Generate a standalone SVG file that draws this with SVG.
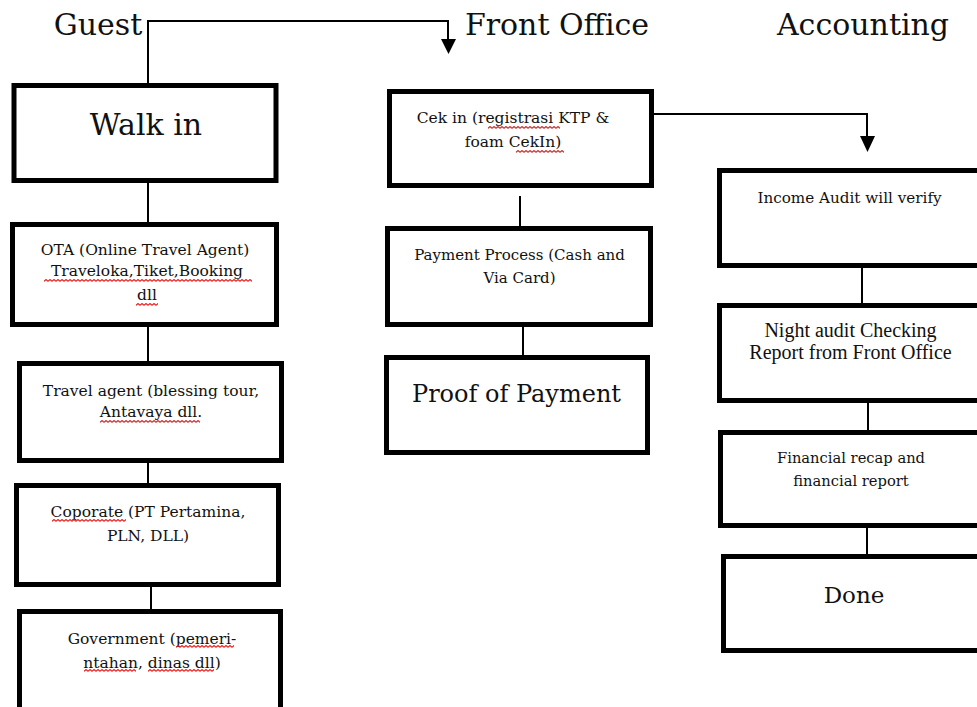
<svg xmlns="http://www.w3.org/2000/svg" width="977" height="707" viewBox="0 0 977 707">
<style>
.box{fill:#fff;stroke:#000;stroke-width:5}
.conn{stroke:#000;stroke-width:2;fill:none}
.head{fill:#000;stroke:none}
.t{font-family:"DejaVu Serif","Liberation Serif",serif;fill:#111;text-anchor:middle}
.tt{font-family:"Liberation Serif","Times New Roman",serif;fill:#111;text-anchor:middle}
.sq{fill:url(#squig)}
</style>
<defs>
<pattern id="squig" patternUnits="userSpaceOnUse" x="0" y="0" width="4" height="3">
<path d="M0,2.4 L2,0.6 L4,2.4" fill="none" stroke="#e02020" stroke-width="1.2"/>
</pattern>
</defs>
<rect width="977" height="707" fill="#fff"/>

<g id="headers">
<text class="t" x="98" y="35" font-size="30">Guest</text>
<text class="t" x="557" y="35" font-size="30">Front Office</text>
<text class="t" x="863" y="35" font-size="30">Accounting</text>
</g>

<g id="connectors">
<polyline class="conn" points="148,83 148,21 448,21 448,40"/>
<polygon class="head" points="441,39 456,39 448.5,54"/>
<polyline class="conn" points="654,114 867,114 867,137"/>
<polygon class="head" points="860,136 875,136 867.5,152"/>
<line class="conn" x1="148" y1="183" x2="148" y2="222"/>
<line class="conn" x1="148" y1="327" x2="148" y2="361"/>
<line class="conn" x1="148" y1="463" x2="148" y2="483"/>
<line class="conn" x1="151" y1="587" x2="151" y2="609"/>
<line class="conn" x1="520" y1="196" x2="520" y2="226"/>
<line class="conn" x1="523" y1="327" x2="523" y2="355"/>
<line class="conn" x1="862" y1="268" x2="862" y2="303"/>
<line class="conn" x1="868" y1="403" x2="868" y2="430"/>
<line class="conn" x1="867" y1="528" x2="867" y2="554"/>
</g>

<g id="walkin">
<rect class="box" x="14" y="85.5" width="262" height="95"/>
<text class="t" x="146" y="135" font-size="30">Walk in</text>
</g>

<g id="ota">
<rect class="box" x="12.5" y="224.5" width="264" height="100"/>
<text class="t" x="145" y="255" font-size="15.5">OTA (Online Travel Agent)</text>
<text class="t" x="147" y="276" font-size="15.5">Traveloka,Tiket,Booking</text>
<text class="t" x="147" y="300" font-size="15.5">dll</text>
<rect class="sq" x="44" y="279" width="208" height="3"/>
<rect class="sq" x="136" y="303" width="22" height="3"/>
</g>

<g id="travel">
<rect class="box" x="19.5" y="363.5" width="262" height="97"/>
<text class="t" x="151" y="396" font-size="15.5">Travel agent (blessing tour,</text>
<text class="t" x="151" y="417" font-size="15.5">Antavaya dll.</text>
<rect class="sq" x="100" y="420" width="100" height="3"/>
</g>

<g id="coporate">
<rect class="box" x="16.5" y="485.5" width="262" height="99"/>
<text class="t" x="148" y="517" font-size="15.5">Coporate (PT Pertamina,</text>
<text class="t" x="148" y="541" font-size="15.5">PLN, DLL)</text>
<rect class="sq" x="52" y="519" width="74" height="3"/>
</g>

<g id="government">
<rect class="box" x="19.5" y="611.5" width="261" height="120"/>
<text class="t" x="152" y="644" font-size="15.5">Government (pemeri-</text>
<text class="t" x="152" y="668" font-size="15.5">ntahan, dinas dll)</text>
<rect class="sq" x="176" y="645" width="58" height="3"/>
<rect class="sq" x="84" y="669" width="52" height="3"/>
<rect class="sq" x="148" y="669" width="66" height="3"/>
</g>

<g id="cekin">
<rect class="box" x="389.5" y="91.5" width="262" height="94"/>
<text class="t" x="513" y="123" font-size="15.5">Cek in (registrasi KTP &amp;</text>
<text class="t" x="513" y="147" font-size="15.5">foam CekIn)</text>
<rect class="sq" x="488" y="126" width="72" height="3"/>
<rect class="sq" x="516" y="150" width="48" height="3"/>
</g>

<g id="payment">
<rect class="box" x="387.5" y="228.5" width="263" height="96"/>
<text class="t" x="519.5" y="260" font-size="15">Payment Process (Cash and</text>
<text class="t" x="519.5" y="283" font-size="15">Via Card)</text>
</g>

<g id="proof">
<rect class="box" x="386.5" y="357.5" width="261" height="95"/>
<text class="t" x="516.5" y="402" font-size="24">Proof of Payment</text>
</g>

<g id="income">
<rect class="box" x="719.5" y="170.5" width="280" height="95"/>
<text class="t" x="849.5" y="203" font-size="15.2">Income Audit will verify</text>
</g>

<g id="night">
<rect class="box" x="719.5" y="305.5" width="280" height="95"/>
<text class="tt" x="850.5" y="337" font-size="20">Night audit Checking</text>
<text class="tt" x="850.5" y="359" font-size="20">Report from Front Office</text>
</g>

<g id="financial">
<rect class="box" x="720.5" y="432.5" width="280" height="93"/>
<text class="t" x="851" y="463" font-size="14.7">Financial recap and</text>
<text class="t" x="851" y="486" font-size="14.7">financial report</text>
</g>

<g id="done">
<rect class="box" x="723.5" y="556.5" width="280" height="94"/>
<text class="t" x="854" y="603" font-size="23">Done</text>
</g>
</svg>
